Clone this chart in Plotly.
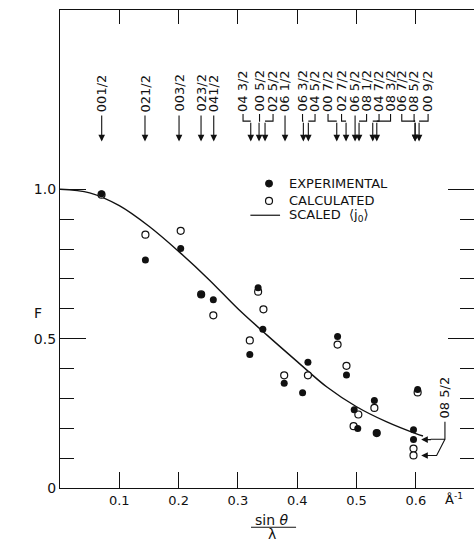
import plotly.graph_objects as go

# ---------------- data ----------------
exp_s = [0.070, 0.144, 0.2035, 0.238, 0.2585, 0.320, 0.334, 0.342, 0.378, 0.409,
         0.418, 0.468, 0.483, 0.496, 0.502, 0.530, 0.534, 0.596, 0.596, 0.603]
exp_F = [0.985, 0.763, 0.802, 0.648, 0.630, 0.447, 0.670, 0.531, 0.351, 0.319,
         0.421, 0.507, 0.378, 0.262, 0.199, 0.293, 0.184, 0.195, 0.162, 0.330]

calc_s = [0.070, 0.144, 0.2035, 0.238, 0.2585, 0.320, 0.334, 0.343, 0.378, 0.418,
          0.468, 0.483, 0.503, 0.495, 0.530, 0.534, 0.596, 0.596, 0.603]
calc_F = [0.982, 0.848, 0.861, 0.648, 0.578, 0.494, 0.657, 0.598, 0.377, 0.377,
          0.480, 0.409, 0.246, 0.207, 0.268, 0.184, 0.132, 0.109, 0.320]

curve_s = [0.0, 0.05, 0.10, 0.15, 0.20, 0.25, 0.30, 0.35, 0.40, 0.45, 0.50, 0.55, 0.60, 0.612]
curve_F = [1.000, 0.988, 0.945, 0.876, 0.792, 0.700, 0.600, 0.510, 0.423, 0.338, 0.272, 0.222, 0.182, 0.174]

refl_labels = ["001/2", "021/2", "003/2", "023/2", "041/2", "04 3/2", "00 5/2", "02 5/2",
               "06 1/2", "06 3/2", "04 5/2", "00 7/2", "02 7/2", "06 5/2", "08 1/2",
               "04 7/2", "08 3/2", "06 7/2", "08 5/2", "00 9/2"]
refl_s = [0.0703, 0.1433, 0.2007, 0.2378, 0.2592, 0.3216, 0.3356, 0.3457, 0.3794, 0.4103,
          0.4187, 0.4666, 0.4823, 0.4975, 0.5042, 0.5273, 0.5341, 0.5987, 0.5987, 0.6054]

x_ticks = [0.1, 0.2, 0.3, 0.4, 0.5, 0.6]
x_ticktext = ["0.1", "0.2", "0.3", "0.4", "0.5", "0.6"]
y_ticks = [0, 0.5, 1.0]
y_ticktext = ["0", "0.5", "1.0"]
y_minor = [0.1, 0.2, 0.3, 0.4, 0.6, 0.7, 0.8, 0.9]

# ---------------- layout helpers (label placement) ----------------
label_x = [0.0703, 0.1433, 0.2007, 0.2378, 0.2592, 0.3086, 0.3364, 0.3592, 0.3794, 0.4089,
           0.4300, 0.4519, 0.4747, 0.4975, 0.5169, 0.5379, 0.5573, 0.5762, 0.5970, 0.6206]
Y_LABEL = 1.252   # bottom of rotated labels
Y_ELBOW = 1.228   # horizontal part of leaders
Y_HEAD = 1.160    # arrow tips

FONT = "DejaVu Sans, Liberation Sans, sans-serif"
BLACK = "#111111"

fig = go.Figure()

fig.add_trace(go.Scatter(x=curve_s, y=curve_F, mode="lines", line=dict(color=BLACK, width=1.4, shape="spline"),
                         showlegend=False, hoverinfo="skip"))
fig.add_trace(go.Scatter(x=calc_s, y=calc_F, mode="markers",
                         marker=dict(symbol="circle", size=7, color="white", line=dict(color=BLACK, width=1.2)),
                         showlegend=False))
fig.add_trace(go.Scatter(x=exp_s, y=exp_F, mode="markers",
                         marker=dict(symbol="circle", size=7, color=BLACK, line=dict(color=BLACK, width=0)),
                         showlegend=False))
# empty traces to activate mirrored-tick axes
fig.add_trace(go.Scatter(x=[], y=[], yaxis="y2", showlegend=False))
fig.add_trace(go.Scatter(x=[], y=[], xaxis="x2", showlegend=False))

shapes = []
annotations = []

# reflection markers at the top
for lab, lx, ax in zip(refl_labels, label_x, refl_s):
    annotations.append(dict(x=lx, y=Y_LABEL, xref="x", yref="y", text=lab, showarrow=False,
                            textangle=-90, xanchor="center", yanchor="bottom",
                            font=dict(family=FONT, size=13, color=BLACK)))
    if abs(lx - ax) > 1e-4:
        shapes.append(dict(type="path", xref="x", yref="y",
                           path=f"M {lx},{Y_LABEL} L {lx},{Y_ELBOW} L {ax},{Y_ELBOW}",
                           line=dict(color=BLACK, width=1.1)))
        tail = Y_ELBOW
    else:
        tail = Y_LABEL
    annotations.append(dict(x=ax, y=Y_HEAD, ax=ax, ay=tail, xref="x", yref="y", axref="x", ayref="y",
                            text="", showarrow=True, arrowhead=2, arrowsize=1.2, arrowwidth=1.1,
                            arrowcolor=BLACK))

# 08 5/2 label at bottom right with leaders to the points at 0.6
annotations.append(dict(x=0.649, y=0.226, xref="x", yref="y", text="08 5/2", showarrow=False,
                        textangle=-90, xanchor="center", yanchor="bottom",
                        font=dict(family=FONT, size=13, color=BLACK)))
shapes.append(dict(type="path", xref="x", yref="y",
                   path="M 0.649,0.222 L 0.649,0.163 L 0.625,0.163 M 0.649,0.163 L 0.635,0.109 L 0.625,0.109",
                   line=dict(color=BLACK, width=1.1)))
for yy in (0.162, 0.109):
    annotations.append(dict(x=0.609, y=yy, ax=0.628, ay=yy, xref="x", yref="y", axref="x", ayref="y",
                            text="", showarrow=True, arrowhead=2, arrowsize=1.2, arrowwidth=1.1,
                            arrowcolor=BLACK))

# legend (manual)
rx, ry = 0.0059, 0.0117
shapes.append(dict(type="circle", xref="x", yref="y", x0=0.3524 - rx, x1=0.3524 + rx,
                   y0=1.019 - ry, y1=1.019 + ry, fillcolor=BLACK, line=dict(color=BLACK, width=1)))
shapes.append(dict(type="circle", xref="x", yref="y", x0=0.3524 - rx, x1=0.3524 + rx,
                   y0=0.961 - ry, y1=0.961 + ry, fillcolor="white", line=dict(color=BLACK, width=1.2)))
shapes.append(dict(type="line", xref="x", yref="y", x0=0.321, x1=0.371, y0=0.913, y1=0.913,
                   line=dict(color=BLACK, width=1.2)))
for txt, yy in (("EXPERIMENTAL", 1.019), ("CALCULATED", 0.961), ("SCALED  ⟨j<sub>0</sub>⟩", 0.913)):
    annotations.append(dict(x=0.383, y=yy, xref="x", yref="y", text=txt, showarrow=False,
                            xanchor="left", yanchor="middle",
                            font=dict(family=FONT, size=13, color=BLACK)))

# axis titles (paper coordinates: outside the plotting area)
annotations.append(dict(x=-0.053, y=0.366, xref="paper", yref="paper", text="F", showarrow=False,
                        xanchor="center", yanchor="middle",
                        font=dict(family=FONT, size=14, color=BLACK)))
annotations.append(dict(x=0.3575, y=-0.0665, xref="x", yref="paper", text="sin <i>θ</i>", showarrow=False,
                        xanchor="center", yanchor="middle",
                        font=dict(family=FONT, size=14, color=BLACK)))
shapes.append(dict(type="line", xref="x", yref="paper", x0=0.322, x1=0.398, y0=-0.0820, y1=-0.0820,
                   line=dict(color=BLACK, width=1.1)))
annotations.append(dict(x=0.3575, y=-0.0965, xref="x", yref="paper", text="λ", showarrow=False,
                        xanchor="center", yanchor="middle",
                        font=dict(family=FONT, size=14, color=BLACK)))
annotations.append(dict(x=0.664, y=-0.0225, xref="x", yref="paper", text="Å<sup>-1</sup>", showarrow=False,
                        xanchor="center", yanchor="middle",
                        font=dict(family=FONT, size=13, color=BLACK)))

axis_common = dict(showgrid=False, zeroline=False, linecolor=BLACK, tickcolor=BLACK, linewidth=1.2)

fig.update_layout(
    width=474, height=541,
    margin=dict(l=60, r=0, t=10, b=53),
    paper_bgcolor="white", plot_bgcolor="white",
    showlegend=False,
    font=dict(family=FONT, size=13, color=BLACK),
    xaxis=dict(range=[0, 0.698], tickmode="array", tickvals=x_ticks, ticktext=x_ticktext,
               ticks="inside", ticklen=16, tickwidth=1.2, showline=True, mirror=True,
               tickfont=dict(size=13), **axis_common),
    xaxis2=dict(range=[0, 0.698], overlaying="x", side="top", tickmode="array", tickvals=x_ticks,
                ticks="inside", ticklen=14, tickwidth=1.2, showticklabels=False, showline=False,
                showgrid=False, zeroline=False, tickcolor=BLACK),
    yaxis=dict(range=[0, 1.6], tickmode="array", tickvals=y_ticks, ticktext=y_ticktext,
               ticks="inside", ticklen=26, tickwidth=1.2, showline=True, mirror=False,
               tickfont=dict(size=14),
               minor=dict(tickmode="array", tickvals=y_minor, ticks="inside", ticklen=14,
                          tickwidth=1.2, tickcolor=BLACK),
               **axis_common),
    yaxis2=dict(range=[0, 1.6], overlaying="y", side="right", tickmode="array", tickvals=y_ticks,
                ticks="inside", ticklen=26, tickwidth=1.2, showticklabels=False, showline=False,
                showgrid=False, zeroline=False, tickcolor=BLACK,
                minor=dict(tickmode="array", tickvals=y_minor, ticks="inside", ticklen=14,
                           tickwidth=1.2, tickcolor=BLACK)),
    shapes=shapes,
    annotations=annotations,
)

fig.write_html("out.html", config={"displayModeBar": False},
               post_script="document.body.style.margin='0px';document.body.style.overflow='hidden';")
